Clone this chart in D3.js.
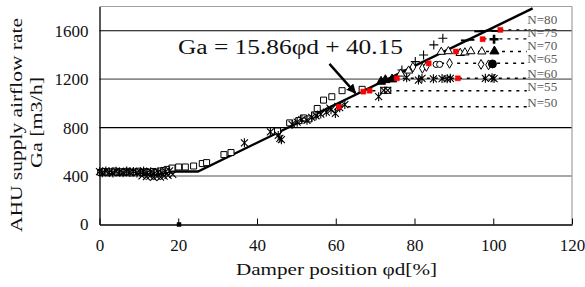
<!DOCTYPE html>
<html lang="en">
<head>
  <meta charset="UTF-8">
  <script src="https://d3js.org/d3.v7.min.js"></script>
  <style>
    body { margin: 0; background: white; }
    svg text { font-family: "Liberation Serif", "DejaVu Serif", serif !important; }
  </style>
</head>
<body>
<div id="chart"></div>
<script>
  // axis ticks
  var xTicks = [0, 20, 40, 60, 80, 100, 120];
  var yTicks = [0, 400, 800, 1200, 1600];

  // fitted line Ga = 15.86 phi d + 40.15, flat below 25 %
  var fitX = [0, 25, 110];
  var fitY = [437, 437, 1785];

  // arrow from label to the fit line [x, Ga]
  var arrowFrom = [58.4, 1326];
  var arrowTo = [65, 1085];

  // fan speed levels N and their flow limits
  var nLevels = [50, 55, 60, 65, 70, 75, 80];
  var nFlow = [972, 1104, 1207, 1331, 1428, 1533, 1607];
  var nStartX = [61, 69.3, 75, 82.7, 88, 97.5, 101.8];
  var nEndX = 108.5;

  // measured points [damper position, flow]
  var squares = [[0.3,430],[1.2,438],[2.0,428],[2.9,435],[3.8,441],[4.6,429],[5.5,436],[6.4,430],[7.2,439],[8.1,427],
    [9.0,434],[9.9,440],[10.8,429],[11.7,436],[12.6,431],[13.6,438],[14.5,428],[15.4,442],[16.3,446],[17.2,455],
    [18.4,466],[20.1,475],[21.8,475],[23.9,483],[26.1,503],[27.2,511],[31.6,577],[33.4,594],[45.2,772],[48.3,839],
    [50.6,858],[51.8,880],[53.2,872],[54.6,905],[55.3,958],[56.9,1027],[59.0,1055],[61.6,1105],[66.7,1116],
    [72.2,1108],[73.2,1108]];
  var asterisks = [[0.0,436],[0.7,428],[1.6,442],[2.5,431],[3.4,426],[4.2,440],[5.1,433],[6.0,427],[6.9,441],[7.7,432],
    [8.6,438],[9.5,426],[10.4,433],[11.2,441],[12.1,427],[13.0,435],[13.9,420],[14.9,432],[15.9,425],[16.8,437],
    [17.8,443],[36.8,674],[43.4,765],[45.4,735],[45.8,712],[46.2,700],[48.9,826],[50.2,845],[51.4,866],[52.7,860],
    [53.9,884],[55.0,898],[56.2,912],[57.6,928],[58.8,948],[59.9,917],[61.0,965],[62.3,990],[70.9,1055],[78.0,1212],
    [81.0,1193],[81.9,1207],[84.8,1203],[87.0,1205],[88.3,1203],[89.1,1207],[98.0,1207],[99.7,1212],[100.2,1205]];
  var crosses = [[10.8,402],[11.9,395],[12.8,400],[13.7,390],[14.6,398],[15.5,392],[16.4,400],[17.4,406],[18.6,414],
    [72.2,1108],[73.2,1108],[60.5,975],[58.5,960]];
  var pluses = [[76.8,1276],[80.2,1345],[82.3,1400],[84.9,1483],[87.2,1538]];
  var triOpen = [[86.8,1425],[88.6,1430],[91.6,1415],[92.8,1420],[94.3,1430],[97.1,1428],[76.5,1245],[78.5,1270]];
  var triFilled = [[71.5,1180],[72.6,1193],[74.3,1199],[100.3,1430]];
  var diamonds = [[79.6,1300],[82.0,1290],[83.0,1305],[88.9,1331],[96.9,1322],[98.8,1318]];
  var circOpen = [[85.5,1322],[86.4,1322]];
  var circFilled = [[99.8,1326]];
  var dashes = [[92.8,1520],[94.2,1525],[96.2,1595],[97.5,1598],[99.0,1600],[100.6,1598]];
  var plusFilled = [[100.2,1530]];
  var reds = [[60.8,972],[67.0,1097],[68.6,1105],[75.5,1207],[91.0,1207],[83.6,1331],[90.5,1428],[97.3,1530],[101.8,1607]];
  var axisDot = [[20.2,0]];

  var width = 585, height = 287;
  var svg = d3.select("#chart").append("svg")
    .attr("width", width).attr("height", height);

  var x = d3.scaleLinear().domain([0, 120]).range([99.5, 572]);
  var y = d3.scaleLinear().domain([0, 1800]).range([224.5, 6.5]);

  // grid lines, 400 and 1200 are grey in the original
  svg.append("g").selectAll("line")
    .data([400, 800, 1200, 1600])
    .enter().append("line")
    .attr("x1", x(0)).attr("x2", x(120))
    .attr("y1", d => y(d)).attr("y2", d => y(d))
    .attr("stroke", d => (d == 400 || d == 1200) ? "#8a8a8a" : "#000")
    .attr("stroke-width", d => (d == 400 || d == 1200) ? 1.6 : 1.1);

  // frame: top and right grey
  svg.append("line").attr("x1", x(0)).attr("x2", x(120)).attr("y1", y(1800)).attr("y2", y(1800))
    .attr("stroke", "#a0a0a0").attr("stroke-width", 1.2);
  svg.append("line").attr("x1", x(120)).attr("x2", x(120)).attr("y1", y(1800)).attr("y2", y(0))
    .attr("stroke", "#a0a0a0").attr("stroke-width", 1.2);

  // axes
  var xAxis = svg.append("g")
    .attr("transform", "translate(0," + y(0) + ")")
    .call(d3.axisBottom(x).tickValues(xTicks).tickFormat(d3.format("d"))
      .tickSizeInner(-6).tickSizeOuter(0).tickPadding(14));
  xAxis.select(".domain").attr("stroke", "#000").attr("stroke-width", 1.3);
  xAxis.selectAll(".tick line").attr("stroke", "#000");
  xAxis.selectAll("text").attr("font-size", 17).attr("fill", "#111");

  var yAxis = svg.append("g")
    .attr("transform", "translate(" + x(0) + ",0)")
    .call(d3.axisLeft(y).tickValues(yTicks).tickFormat(d3.format("d"))
      .tickSize(0).tickPadding(11));
  yAxis.select(".domain").attr("stroke", "#000").attr("stroke-width", 1.3);
  yAxis.selectAll("text").attr("font-size", 17).attr("fill", "#111");

  // dashed N lines and labels (labels pushed up so they do not collide)
  var nLines = svg.append("g");
  var prevLabelY = Infinity;
  nLevels.forEach(function (n, i) {
    nLines.append("line")
      .attr("x1", x(nStartX[i])).attr("x2", x(nEndX))
      .attr("y1", y(nFlow[i])).attr("y2", y(nFlow[i]))
      .attr("stroke", "#000").attr("stroke-width", 1.4)
      .attr("stroke-dasharray", "3,5");
    var ly = Math.min(y(nFlow[i]), prevLabelY - 13);
    prevLabelY = ly;
    nLines.append("text")
      .attr("x", x(nEndX) + 0.5)
      .attr("y", ly)
      .attr("font-size", 11.5)
      .attr("fill", "#5a5a5a")
      .attr("textLength", 30).attr("lengthAdjust", "spacingAndGlyphs")
      .text("N=" + n);
  });

  // fit line
  svg.append("path")
    .datum(fitX.map((d, i) => [d, fitY[i]]))
    .attr("d", d3.line().x(d => x(d[0])).y(d => y(d[1])))
    .attr("fill", "none").attr("stroke", "#000").attr("stroke-width", 2.4);

  // markers
  var pts = svg.append("g");
  function draw(data, pathStr, fill, stroke, sw) {
    pts.selectAll(null).data(data).enter().append("path")
      .attr("transform", d => "translate(" + x(d[0]) + "," + y(d[1]) + ")")
      .attr("d", pathStr)
      .attr("fill", fill).attr("stroke", stroke).attr("stroke-width", sw);
  }
  var sq = "M-3,-3H3V3H-3Z";
  var ast = "M-3.5,-3.5L3.5,3.5M-3.5,3.5L3.5,-3.5M0,-4.5V4.5";
  var crs = "M-3.5,-3.5L3.5,3.5M-3.5,3.5L3.5,-3.5";
  var pls = "M-4.5,0H4.5M0,-4.5V4.5";
  var dsh = "M-4,0H4";
  draw(squares, sq, "#fff", "#000", 1);
  draw(asterisks, ast, "none", "#000", 1.1);
  draw(crosses, crs, "none", "#000", 1.1);
  draw(pluses, pls, "none", "#000", 1.1);
  draw(triOpen, d3.symbol(d3.symbolTriangle, 30)(), "#fff", "#000", 1);
  draw(triFilled, d3.symbol(d3.symbolTriangle, 36)(), "#000", "#000", 1);
  draw(diamonds, d3.symbol(d3.symbolDiamond, 28)(), "#fff", "#000", 1);
  draw(circOpen, d3.symbol(d3.symbolCircle, 30)(), "#fff", "#000", 1);
  draw(circFilled, d3.symbol(d3.symbolCircle, 50)(), "#000", "#000", 1);
  draw(dashes, dsh, "none", "#000", 2);
  draw(plusFilled, pls, "none", "#000", 2.6);
  draw(reds, "M-2.5,-2.5H2.5V2.5H-2.5Z", "#ff0000", "#e00000", 0.5);
  draw(axisDot, "M-2,-2H2V2H-2Z", "#000", "#000", 0.5);

  // arrow
  svg.append("defs").append("marker")
    .attr("id", "head").attr("viewBox", "0 0 10 10")
    .attr("refX", 9).attr("refY", 5)
    .attr("markerWidth", 4).attr("markerHeight", 4)
    .attr("orient", "auto")
    .append("path").attr("d", "M0,0L10,5L0,10Z").attr("fill", "#000");
  svg.append("line")
    .attr("x1", x(arrowFrom[0])).attr("y1", y(arrowFrom[1]))
    .attr("x2", x(arrowTo[0])).attr("y2", y(arrowTo[1]))
    .attr("stroke", "#000").attr("stroke-width", 2.4)
    .attr("marker-end", "url(#head)");

  // equation
  svg.append("text")
    .attr("x", 178).attr("y", 54)
    .attr("font-size", 20).attr("fill", "#111")
    .attr("textLength", 225).attr("lengthAdjust", "spacingAndGlyphs")
    .text("Ga = 15.86\u03c6d + 40.15");

  // axis titles
  svg.append("text")
    .attr("x", 236).attr("y", 275)
    .attr("font-size", 16).attr("fill", "#111")
    .attr("textLength", 201).attr("lengthAdjust", "spacingAndGlyphs")
    .text("Damper position \u03c6d[%]");

  svg.append("text")
    .attr("transform", "translate(22,232) rotate(-90)")
    .attr("font-size", 16).attr("fill", "#111")
    .attr("textLength", 214).attr("lengthAdjust", "spacingAndGlyphs")
    .text("AHU supply airflow rate");
  svg.append("text")
    .attr("transform", "translate(42,168) rotate(-90)")
    .attr("font-size", 16).attr("fill", "#111")
    .attr("textLength", 91).attr("lengthAdjust", "spacingAndGlyphs")
    .text("Ga [m3/h]");
</script>
</body>
</html>
